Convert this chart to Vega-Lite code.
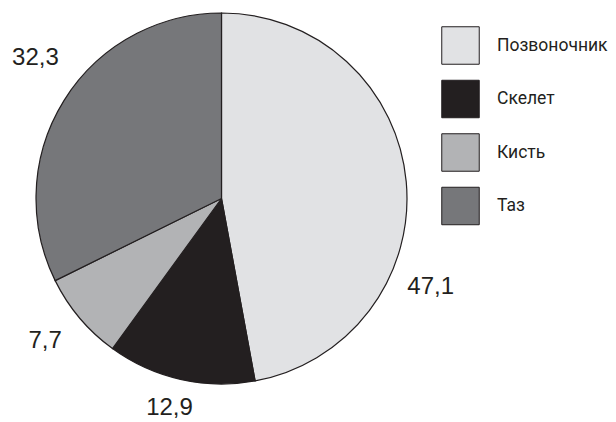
{
  "$schema": "https://vega.github.io/schema/vega-lite/v6.json",
  "autosize": "none",
  "width": 443,
  "height": 397,
  "padding": {"left": 0, "top": 0, "right": 173, "bottom": 25},
  "background": "white",
  "config": {"view": {"stroke": null}},
  "data": {"values": [
    {"k": 1, "part": "Позвоночник", "value": 47.1, "label": "47,1"},
    {"k": 2, "part": "Скелет", "value": 12.9, "label": "12,9"},
    {"k": 3, "part": "Кисть", "value": 7.7, "label": "7,7"},
    {"k": 4, "part": "Таз", "value": 32.3, "label": "32,3"}
  ]},
  "encoding": {
    "theta": {"field": "value", "type": "quantitative", "stack": true},
    "order": {"field": "k", "type": "quantitative"}
  },
  "layer": [
    {
      "mark": {"type": "arc", "radius": 185.5, "stroke": "#231f20", "strokeWidth": 1.2},
      "encoding": {
        "color": {
          "field": "part", "type": "nominal",
          "scale": {"domain": ["Позвоночник", "Скелет", "Кисть", "Таз"], "range": ["#e1e2e4", "#231f20", "#b2b3b5", "#76777a"]},
          "legend": {
            "orient": "none", "legendX": 441, "legendY": 26, "padding": 0,
            "title": null, "symbolType": "square", "symbolSize": 1406,
            "symbolStrokeColor": "#231f20", "symbolStrokeWidth": 1, "symbolOpacity": 1,
            "labelFont": "Roboto, Liberation Sans, sans-serif", "labelFontSize": 17.5, "labelColor": "#231f20",
            "labelOffset": 17, "rowPadding": 10.5, "labelLimit": 200
          }
        }
      }
    },
    {
      "mark": {
        "type": "text", "font": "Liberation Sans", "fontSize": 24, "color": "#231f20",
        "align": "center", "baseline": "middle",
        "radius": {"expr": "datum.part == 'Скелет' ? 216 : datum.part == 'Таз' ? 233 : 227"},
        "thetaOffset": {"expr": "datum.part == 'Позвоночник' ? 0.49 : datum.part == 'Таз' ? 0.09 : 0.02"}
      },
      "encoding": {"text": {"field": "label"}}
    }
  ]
}
